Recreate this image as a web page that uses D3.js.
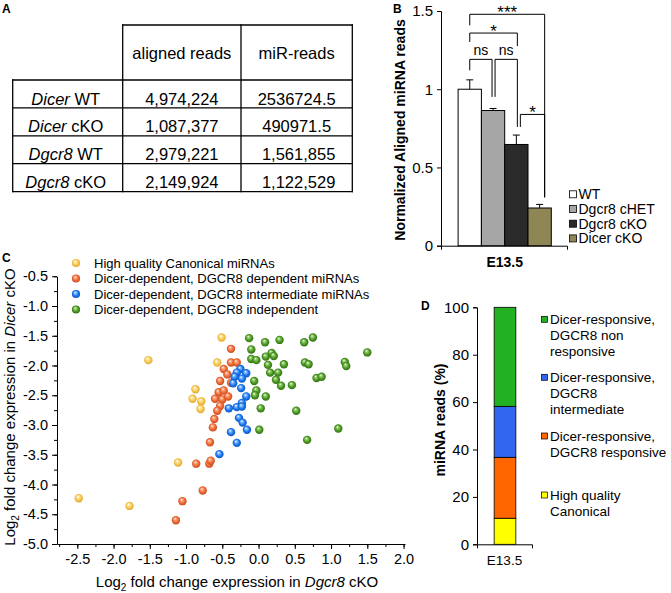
<!DOCTYPE html>
<html><head><meta charset="utf-8">
<script src="https://cdn.jsdelivr.net/npm/d3@7"></script>
<style>body{margin:0;background:#fff}svg{display:block;font-family:"Liberation Sans",Arial,Helvetica,sans-serif}</style>
</head><body><svg id="c" width="671" height="593"></svg>
<script>
// ---------- Panel A data ----------
const tableCols = ["aligned reads", "miR-reads"];
const tableGenes = ["Dicer", "Dicer", "Dgcr8", "Dgcr8"];
const tableTypes = ["WT", "cKO", "WT", "cKO"];
const alignedReads = ["4,974,224", "1,087,377", "2,979,221", "2,149,924"];
const mirReads = ["2536724.5", "490971.5", "1,561,855", "1,122,529"];

// ---------- Panel B data ----------
const bGroups = ["E13.5"];
const bSeries = ["WT", "Dgcr8 cHET", "Dgcr8 cKO", "Dicer cKO"];
const bValues = [1.0, 0.864, 0.647, 0.241];
const bErrors = [0.06, 0.013, 0.06, 0.023];
const bTicks = [0, 0.5, 1, 1.5];
const bColors = ["#ffffff", "#a6a6a6", "#2a2a2a", "#8e8655"];
const bBrackets = [
  {from: 0, to: 3, top: 1.479, leftEnd: 1.408, rightEnd: 0.309, label: "***"},
  {from: 0, to: 2, top: 1.359, leftEnd: 1.302, rightEnd: 1.276, label: "*"},
  {from: 0, to: 1, top: 1.191, leftEnd: 1.121, rightEnd: 0.951, label: "ns"},
  {from: 1, to: 2, top: 1.191, leftEnd: 0.951, rightEnd: 0.759, label: "ns"},
  {from: 2, to: 3, top: 0.839, leftEnd: 0.759, rightEnd: 0.309, label: "*"}
];

// ---------- Panel C data ----------
const cSeriesNames = ["High quality Canonical miRNAs", "Dicer-dependent, DGCR8 dependent miRNAs",
  "Dicer-dependent, DGCR8 intermediate miRNAs", "Dicer-dependent, DGCR8 independent"];
const cCanonical = [[-0.51,-1.53],[-0.57,-1.95],[-0.87,-2.40],[-0.91,-2.56],[-0.79,-2.60],[-0.80,-2.73],
  [-1.52,-1.91],[-2.48,-4.23],[-1.78,-4.36],[-1.11,-3.63]];
const cDependent = [[-0.38,-1.72],[-0.38,-1.95],[-0.30,-1.95],[-0.48,-2.06],[-0.43,-2.15],[-0.53,-2.26],
  [-0.38,-2.29],[-0.55,-2.45],[-0.48,-2.42],[-0.60,-2.56],[-0.50,-2.57],[-0.42,-2.52],[-0.53,-2.68],
  [-0.57,-2.76],[-0.61,-2.90],[-0.63,-3.04],[-0.67,-3.29],[-1.14,-4.60],[-1.05,-4.28],[-0.77,-4.10],
  [-0.86,-3.65],[-0.68,-3.65],[-0.66,-3.60]];
const cIntermediate = [[-0.25,-2.06],[-0.30,-2.12],[-0.17,-2.13],[-0.33,-2.19],[-0.23,-2.22],[-0.35,-2.30],
  [-0.24,-2.38],[-0.17,-2.52],[-0.23,-2.63],[-0.30,-2.70],[-0.41,-2.72],[-0.23,-2.69],[-0.27,-2.88],
  [-0.22,-2.96],[-0.16,-3.08],[-0.38,-3.12],[-0.30,-3.30],[-0.54,-3.49]];
const cIndependent = [[-0.13,-1.54],[0.09,-1.61],[0.29,-1.57],[-0.10,-1.73],[-0.10,-1.89],[-0.03,-1.91],
  [0.10,-1.85],[0.18,-1.79],[0.21,-1.84],[0.13,-1.99],[0.35,-1.98],[0.16,-2.12],[0.27,-2.12],[0.24,-2.24],
  [0.31,-2.34],[0.46,-2.33],[-0.06,-2.26],[-0.03,-2.42],[-0.05,-2.50],[0.10,-2.52],[0.03,-2.72],[0.52,-2.76],
  [0.01,-3.08],[0.63,-1.61],[0.75,-1.53],[1.50,-1.78],[0.64,-1.95],[0.69,-1.98],[1.19,-1.94],[1.21,-2.01],
  [0.80,-2.21],[0.87,-2.19],[1.10,-3.06],[0.67,-3.25]];
const cXTicks = [-2.5, -2.0, -1.5, -1.0, -0.5, 0.0, 0.5, 1.0, 1.5, 2.0];
const cYTicks = [-5.0, -4.5, -4.0, -3.5, -3.0, -2.5, -2.0, -1.5, -1.0, -0.5];

// ---------- Panel D data ----------
const dCategories = ["E13.5"];
const dValues = [11.0, 25.7, 21.5, 41.8];
const dColors = ["#ffff00", "#ff6600", "#3366ee", "#21b121"];
const dLegendLines = [
  ["Dicer-responsive,", "DGCR8 non", "responsive"],
  ["Dicer-responsive,", "DGCR8", "intermediate"],
  ["Dicer-responsive,", "DGCR8 responsive"],
  ["High quality", "Canonical"]
];
const dLegendColorIndex = [3, 2, 1, 0];
const dTicks = [0, 20, 40, 60, 80, 100];

const svg = d3.select("#c");
const defs = svg.append("defs");

// ================= Panel A =================
(function(){
  const g = svg.append("g");
  g.append("text").attr("x", 2).attr("y", 13).attr("font-weight", "bold").attr("font-size", 12).text("A");
  const colX = [12.7, 122.7, 241, 352.3];
  const headTop = 25, rowTop = 80, rowH = 27.9;
  const n = tableGenes.length;
  const ln = (x1, y1, x2, y2) => g.append("line").attr("x1", x1).attr("y1", y1).attr("x2", x2).attr("y2", y2)
    .attr("stroke", "#000").attr("stroke-width", 1.3).attr("stroke-linecap", "square");
  ln(colX[1], headTop, colX[3], headTop);
  ln(colX[1], headTop, colX[1], rowTop + n * rowH);
  ln(colX[2], headTop, colX[2], rowTop + n * rowH);
  ln(colX[3], headTop, colX[3], rowTop + n * rowH);
  ln(colX[0], rowTop, colX[0], rowTop + n * rowH);
  for (let i = 0; i <= n; i++) ln(colX[0], rowTop + i * rowH, colX[3], rowTop + i * rowH);
  const fs = 16.5;
  tableCols.forEach((c, i) => {
    g.append("text").attr("x", (colX[i + 1] + colX[i + 2]) / 2).attr("y", 58.5)
      .attr("text-anchor", "middle").attr("font-size", fs).text(c);
  });
  tableGenes.forEach((gene, i) => {
    const y = rowTop + i * rowH + 24.5;
    const t = g.append("text").attr("x", (colX[0] + colX[1]) / 2 - 2).attr("y", y)
      .attr("text-anchor", "middle").attr("font-size", fs);
    t.append("tspan").attr("font-style", "italic").text(gene);
    t.append("tspan").text(" " + tableTypes[i]);
    g.append("text").attr("x", (colX[1] + colX[2]) / 2).attr("y", y).attr("text-anchor", "middle")
      .attr("font-size", fs).text(alignedReads[i]);
    g.append("text").attr("x", (colX[2] + colX[3]) / 2 + (i >= 2 ? 2 : 0)).attr("y", y).attr("text-anchor", "middle")
      .attr("font-size", fs).text(mirReads[i]);
  });
})();

// ================= Panel B =================
(function(){
  const g = svg.append("g");
  g.append("text").attr("x", 393).attr("y", 13).attr("font-weight", "bold").attr("font-size", 12).text("B");
  const y = d3.scaleLinear().domain([0, 1.5]).range([245.7, 11]);
  const x0 = d3.scaleBand().domain(bGroups).range([441, 567]);
  const barW = 23.3;
  const center = x0(bGroups[0]) + x0.bandwidth() / 2 + 0.7;
  const bx = i => center - 2 * barW + i * barW;
  const bc = i => bx(i) + barW / 2;

  const ya = g.append("g").attr("transform", "translate(441,0)")
    .call(d3.axisLeft(y).tickValues(bTicks).tickFormat(d => String(d)).tickSize(4).tickPadding(4));
  ya.selectAll("text").attr("font-size", 15).attr("fill", "#000").attr("font-family", null);
  ya.selectAll("line,path").attr("stroke", "#000");
  const xa = g.append("g").attr("transform", "translate(0,245.7)")
    .call(d3.axisBottom(x0).tickSizeInner(0).tickSizeOuter(4).tickFormat(""));
  xa.selectAll("path").attr("stroke", "#000");
  g.append("text").attr("x", center).attr("y", 266.5).attr("text-anchor", "middle")
    .attr("font-weight", "bold").attr("font-size", 14).text(bGroups[0]);

  g.selectAll("rect.bar").data(bValues).enter().append("rect").attr("class", "bar")
    .attr("x", (d, i) => bx(i)).attr("width", barW)
    .attr("y", d => y(d)).attr("height", d => y(0) - y(d))
    .attr("fill", (d, i) => bColors[i]).attr("stroke", "#000").attr("stroke-width", 1);
  bValues.forEach((v, i) => {
    g.append("line").attr("x1", bc(i)).attr("x2", bc(i)).attr("y1", y(v)).attr("y2", y(v + bErrors[i]))
      .attr("stroke", "#000");
    g.append("line").attr("x1", bc(i) - 3.5).attr("x2", bc(i) + 3.5).attr("y1", y(v + bErrors[i])).attr("y2", y(v + bErrors[i]))
      .attr("stroke", "#000");
  });
  const dx = [[0, 5], [0, 1], [0, -1], [2, 1], [4, 5]];
  bBrackets.forEach((b, k) => {
    const xl = bc(b.from) + dx[k][0], xr = bc(b.to) + dx[k][1];
    g.append("path").attr("d", `M${xl},${y(b.leftEnd)}V${y(b.top)}H${xr}V${y(b.rightEnd)}`)
      .attr("fill", "none").attr("stroke", "#000").attr("stroke-width", 1);
    const isStar = b.label.indexOf("*") >= 0;
    g.append("text").attr("x", (xl + xr) / 2).attr("y", y(b.top) + (isStar ? 4 : -4))
      .attr("text-anchor", "middle").attr("font-size", isStar ? 17 : 14).text(b.label);
  });
  g.append("text").attr("transform", "translate(405,130) rotate(-90)").attr("text-anchor", "middle")
    .attr("font-weight", "bold").attr("font-size", 14).text("Normalized Aligned miRNA reads");
  bSeries.forEach((s, i) => {
    const cy = 194.3 + i * 14.7;
    g.append("rect").attr("x", 569.5).attr("y", cy - 3.5).attr("width", 7).attr("height", 7)
      .attr("fill", bColors[i]).attr("stroke", "#000").attr("stroke-width", 0.8);
    g.append("text").attr("x", 578.5).attr("y", cy + 5).attr("font-size", 14).text(s);
  });
})();

// ================= Panel C =================
(function(){
  const g = svg.append("g");
  g.append("text").attr("x", 2).attr("y", 262).attr("font-weight", "bold").attr("font-size", 12).text("C");
  const x = d3.scaleLinear().domain([-2.78, 2.02]).range([57, 405]);
  const y = d3.scaleLinear().domain([-5, -0.5]).range([544, 276.25]);
  const fmt = d => d.toFixed(1);

  const minorX = d3.range(-11, 9).map(i => i / 4);
  const minorY = d3.range(-20, -1).map(i => i / 4);
  const xa = g.append("g").attr("transform", "translate(0,544)");
  xa.call(d3.axisBottom(x).tickValues(cXTicks).tickFormat(fmt).tickSizeInner(5).tickSizeOuter(0).tickPadding(5));
  const xm = g.append("g").attr("transform", "translate(0,544)")
    .call(d3.axisBottom(x).tickValues(minorX).tickFormat("").tickSizeInner(3).tickSizeOuter(0));
  xm.select("path").remove();
  const ya = g.append("g").attr("transform", "translate(57,0)");
  ya.call(d3.axisLeft(y).tickValues(cYTicks).tickFormat(fmt).tickSizeInner(5).tickSizeOuter(0).tickPadding(4));
  const ym = g.append("g").attr("transform", "translate(57,0)")
    .call(d3.axisLeft(y).tickValues(minorY).tickFormat("").tickSizeInner(3).tickSizeOuter(0));
  ym.select("path").remove();
  g.selectAll("text").filter(function(){ return this.parentNode.classList.contains("tick"); })
    .attr("font-size", 14.5).attr("fill", "#000").attr("font-family", null);
  g.selectAll(".domain,.tick line").attr("stroke", "#000");

  const xt = g.append("text").attr("x", 237).attr("y", 587).attr("text-anchor", "middle").attr("font-size", 15);
  xt.append("tspan").text("Log");
  xt.append("tspan").attr("dy", 4).attr("font-size", 10).text("2");
  xt.append("tspan").attr("dy", -4).text(" fold change expression in ");
  xt.append("tspan").attr("font-style", "italic").text("Dgcr8");
  xt.append("tspan").text(" cKO");
  const yt = g.append("text").attr("transform", "translate(15,407) rotate(-90)").attr("text-anchor", "middle").attr("font-size", 15);
  yt.append("tspan").text("Log");
  yt.append("tspan").attr("dy", 4).attr("font-size", 10).text("2");
  yt.append("tspan").attr("dy", -4).text(" fold change expression in ");
  yt.append("tspan").attr("font-style", "italic").text("Dicer");
  yt.append("tspan").text(" cKO");

  const pal = [
    {id: "gY", light: "#fde9a8", base: "#f8c852", dark: "#d9a22a"},
    {id: "gO", light: "#f9ad8a", base: "#f06a36", dark: "#c2461a"},
    {id: "gB", light: "#8cc0ff", base: "#1a78f2", dark: "#0a4fb5"},
    {id: "gG", light: "#9fd07a", base: "#4b9a22", dark: "#2d6a10"}
  ];
  pal.forEach(p => {
    const rg = defs.append("radialGradient").attr("id", p.id)
      .attr("cx", "50%").attr("cy", "50%").attr("r", "55%").attr("fx", "38%").attr("fy", "30%");
    rg.append("stop").attr("offset", "0%").attr("stop-color", "#ffffff");
    rg.append("stop").attr("offset", "22%").attr("stop-color", p.light);
    rg.append("stop").attr("offset", "60%").attr("stop-color", p.base);
    rg.append("stop").attr("offset", "100%").attr("stop-color", p.dark);
  });
  const series = [cCanonical, cDependent, cIntermediate, cIndependent];
  const order = [1, 0, 2, 3];
  order.forEach(si => {
    g.append("g").selectAll("circle").data(series[si]).enter().append("circle")
      .attr("cx", d => x(d[0])).attr("cy", d => y(d[1])).attr("r", 4.2)
      .attr("fill", `url(#${pal[si].id})`);
  });
  cSeriesNames.forEach((s, i) => {
    const cy = 263 + i * 15.5;
    g.append("circle").attr("cx", 76).attr("cy", cy).attr("r", 4.1).attr("fill", `url(#${pal[i].id})`);
    g.append("text").attr("x", 94).attr("y", cy + 4.5).attr("font-size", 13).text(s);
  });
})();

// ================= Panel D =================
(function(){
  const g = svg.append("g");
  g.append("text").attr("x", 421).attr("y", 310).attr("font-weight", "bold").attr("font-size", 12).text("D");
  const y = d3.scaleLinear().domain([0, 100]).range([544.3, 307.3]);
  const x = d3.scaleBand().domain(dCategories).range([477, 532]);
  const ya = g.append("g").attr("transform", "translate(477,0)")
    .call(d3.axisLeft(y).tickValues(dTicks).tickSize(4).tickPadding(4));
  ya.selectAll("text").attr("font-size", 15).attr("fill", "#000").attr("font-family", null);
  ya.selectAll("line,path").attr("stroke", "#000");
  const xa = g.append("g").attr("transform", "translate(0,544.3)")
    .call(d3.axisBottom(x).tickSizeInner(0).tickSizeOuter(4).tickFormat(""));
  xa.selectAll("path").attr("stroke", "#000");
  g.append("text").attr("x", x(dCategories[0]) + x.bandwidth() / 2).attr("y", 565).attr("text-anchor", "middle")
    .attr("font-size", 13.5).text(dCategories[0]);
  const barW = 21.7;
  const bx = x(dCategories[0]) + x.bandwidth() / 2 - barW / 2 + 0.5;
  let acc = 0;
  dValues.forEach((v, i) => {
    g.append("rect").attr("x", bx).attr("width", barW).attr("y", y(acc + v)).attr("height", y(acc) - y(acc + v))
      .attr("fill", dColors[i]).attr("stroke", "#000").attr("stroke-width", 0.8);
    acc += v;
  });
  g.append("text").attr("transform", "translate(445,420) rotate(-90)").attr("text-anchor", "middle")
    .attr("font-weight", "bold").attr("font-size", 14).text("miRNA reads (%)");
  const starts = [319.3, 377.3, 436, 495];
  dLegendLines.forEach((lines, k) => {
    const ci = dLegendColorIndex[k];
    g.append("rect").attr("x", 541.5).attr("y", starts[k] - 3).attr("width", 6).attr("height", 6)
      .attr("fill", dColors[ci]).attr("stroke", "#000").attr("stroke-width", 0.7);
    lines.forEach((t, j) => {
      g.append("text").attr("x", 550).attr("y", starts[k] + 5 + j * 16).attr("font-size", 13.5).text(t);
    });
  });
})();
</script>
</body></html>
